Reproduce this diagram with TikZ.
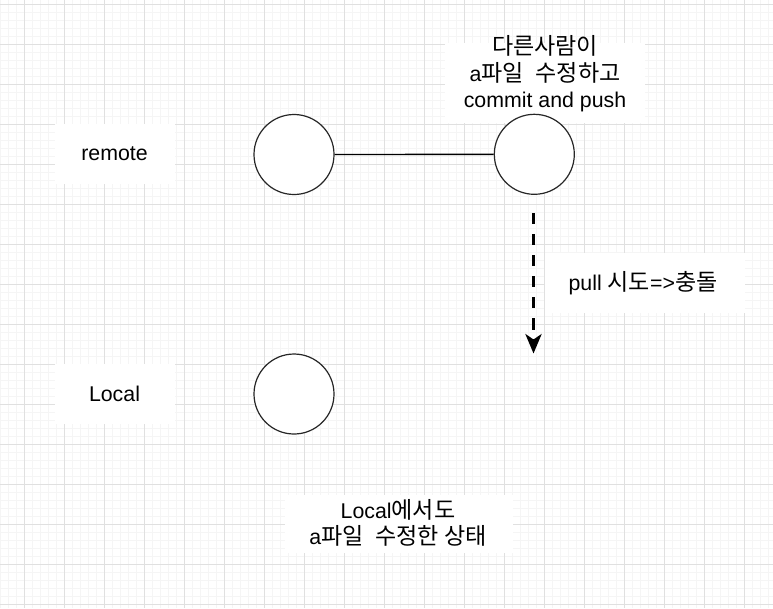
\documentclass[tikz,border=0pt]{standalone}
\usepackage{fontspec}
\setmainfont{Liberation Sans}
\newfontfamily\kr[Scale=1.08]{Noto Sans CJK KR}
\usetikzlibrary{arrows.meta}
\definecolor{gridmajor}{RGB}{224,224,224}
\definecolor{gridminor}{RGB}{245,245,245}
\tikzset{
  minorline/.style={gridminor, line width=0.75pt},
  majorline/.style={gridmajor, line width=0.75pt},
  circnode/.style={circle, draw=black!85, line width=0.9pt, fill=white, minimum size=60pt, inner sep=0pt},
  txt/.style={font=\fontsize{16}{20}\selectfont, align=center, inner sep=0pt, text=black},
  conn/.style={line width=1pt, black},
  dasharrow/.style={line width=2.9pt, black, dash pattern=on 8.4pt off 7.4pt,
    -{Stealth[length=14.5pt, width=12pt, inset=4pt]}}
}
\begin{document}
\begin{tikzpicture}[x=0.75pt, y=-0.75pt]
\useasboundingbox (0,0) rectangle (773,608);
\fill[white] (0,0) rectangle (773,608);
% grid
\foreach \gx in {0,8,...,772} { \draw[minorline] (\gx,0) -- (\gx,608); }
\foreach \gy in {4,12,...,607} { \draw[minorline] (0,\gy) -- (773,\gy); }
\foreach \gx in {24,64,...,772} { \draw[majorline] (\gx,0) -- (\gx,608); }
\foreach \gy in {4,44,...,607} { \draw[majorline] (0,\gy) -- (773,\gy); }
% white label boxes
\fill[white] (55,124) rectangle (175,184);
\fill[white] (55,364) rectangle (175,424);
\fill[white] (445,43) rectangle (645,123);
\fill[white] (545,253) rectangle (745,313);
\fill[white] (285,495) rectangle (513,553);
% labels
\node[txt] (remote) at (114.5,154) {remote};
\node[txt] (local) at (114.5,394) {Local};
\node[txt] (topnote) at (545,74) {{\kr 다른사람이}\\a{\kr 파일}\ \ {\kr 수정하고}\\commit and push};
\node[txt] (pullnote) at (643,283) {pull {\kr 시도}=>{\kr 충돌}};
\node[txt] (localnote) at (398,523) {Local{\kr 에서도}\\a{\kr 파일}\ \ {\kr 수정한 상태}};
% circles
\node[circnode] (c1) at (294,154.5) {};
\node[circnode] (c2) at (534.3,154.3) {};
\node[circnode] (c3) at (294,394) {};
% connectors
\draw[conn] (c1) -- (c2);
\coordinate (ps) at (533.5,213);
\coordinate (pe) at (533.5,353.5);
\draw[dasharrow] (ps) -- (pe);
\end{tikzpicture}
\end{document}
